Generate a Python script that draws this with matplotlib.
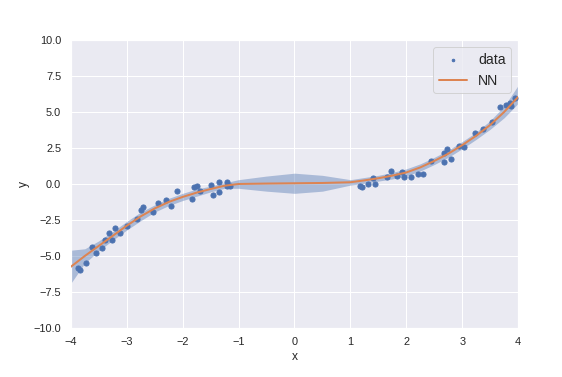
import numpy as np
import matplotlib.pyplot as plt
import seaborn as sns

sns.set_theme()
plt.rcParams['font.family'] = ['Liberation Sans', 'DejaVu Sans']

# noisy samples
data_x = [-3.87, -3.84, -3.73, -3.62, -3.55, -3.45, -3.39, -3.31, -3.26, -3.21,
          -3.12, -3.00, -2.81, -2.74, -2.71, -2.53, -2.44, -2.29, -2.21, -2.10,
          -1.83, -1.79, -1.75, -1.69, -1.50, -1.45, -1.35, -1.35, -1.21, -1.21,
          -1.16,
          1.18, 1.21, 1.31, 1.40, 1.44, 1.65, 1.72, 1.83, 1.92, 1.96,
          2.09, 2.20, 2.29, 2.44, 2.67, 2.68, 2.72, 2.80, 2.94, 3.03,
          3.23, 3.38, 3.54, 3.67, 3.78, 3.85, 3.88, 3.95]
data_y = [-5.80, -6.00, -5.50, -4.35, -4.80, -4.45, -3.90, -3.43, -3.90, -3.08,
          -3.43, -2.92, -2.45, -1.80, -1.58, -1.97, -1.30, -1.11, -1.50, -0.49,
          -1.04, -0.23, -0.12, -0.47, -0.07, -0.76, -0.58, 0.16, 0.16, -0.14,
          -0.14,
          -0.12, -0.23, 0.00, 0.44, -0.02, 0.51, 0.92, 0.58, 0.81, 0.51,
          0.51, 0.69, 0.69, 1.60, 1.55, 2.17, 2.41, 1.74, 2.66, 2.55,
          3.52, 3.80, 4.33, 5.37, 5.49, 5.60, 5.42, 5.95]

# network prediction with its uncertainty band
nn_x = [-4.0, -3.75, -3.5, -3.25, -3.0, -2.75, -2.5, -2.25, -2.0, -1.75, -1.5,
        -1.25, -1.0, -0.5, 0.0, 0.5, 1.0, 1.25, 1.5, 1.75, 2.0, 2.25, 2.5,
        2.75, 3.0, 3.25, 3.5, 3.75, 4.0]
nn_mean = [-5.75, -5.0, -4.3, -3.6, -2.9, -2.25, -1.7, -1.25, -0.9, -0.6, -0.35,
           -0.12, 0.0, 0.03, 0.05, 0.07, 0.12, 0.25, 0.4, 0.58, 0.8, 1.15, 1.6,
           2.1, 2.7, 3.35, 4.1, 5.0, 6.05]
nn_lower = [-6.9, -5.5, -4.65, -3.9, -3.2, -2.55, -1.95, -1.5, -1.15, -0.85, -0.55,
            -0.3, -0.3, -0.5, -0.65, -0.5, -0.08, 0.05, 0.2, 0.35, 0.55, 0.9, 1.35,
            1.85, 2.45, 3.1, 3.8, 4.6, 5.6]
nn_upper = [-4.6, -4.5, -3.95, -3.3, -2.6, -1.95, -1.45, -1.0, -0.65, -0.35, -0.15,
            0.08, 0.3, 0.55, 0.75, 0.6, 0.3, 0.45, 0.6, 0.8, 1.05, 1.4, 1.85,
            2.35, 2.95, 3.6, 4.4, 5.4, 6.85]

fig, ax = plt.subplots(figsize=(562 / 72, 377 / 72), dpi=72)
fig.subplots_adjust(left=0.126, right=0.922, top=0.894, bottom=0.130)

ax.fill_between(nn_x, nn_lower, nn_upper, color="C0", alpha=0.4, linewidth=0)
ax.scatter(data_x, data_y, s=26, color="C0", label="data", zorder=3)
ax.plot(nn_x, nn_mean, color="C1", linewidth=2, label="NN", zorder=4)

ax.set_xlim(-4, 4)
ax.set_ylim(-10, 10)
ax.set_yticks(np.arange(-10, 10.1, 2.5))
ax.set_xlabel("x")
ax.set_ylabel("y")
ax.legend(loc="upper right", scatterpoints=1, fontsize=14, markerscale=0.5)

plt.savefig("out.png", dpi=72)
